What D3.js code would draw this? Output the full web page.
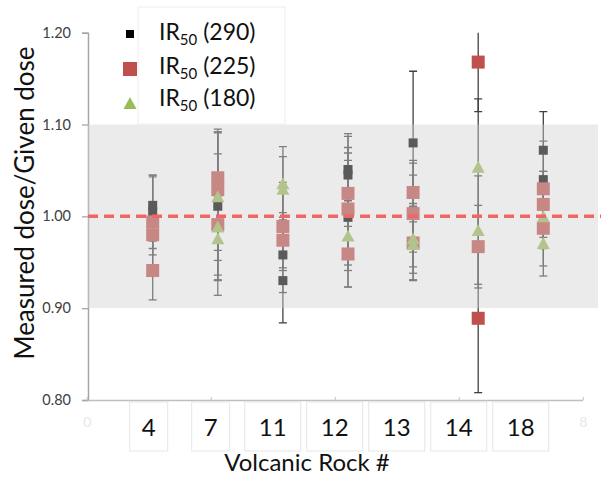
<!DOCTYPE html>
<html>
<head>
<meta charset="utf-8">
<script src="https://cdn.jsdelivr.net/npm/d3@7"></script>
<style>
  html, body { margin: 0; padding: 0; background: #fff; }
  svg { display: block; font-family: Lato, "Open Sans", sans-serif; }
</style>
</head>
<body>
<svg id="chart" width="608" height="481"></svg>
<script>
// Rock samples along the horizontal axis
const rocks = ["4", "7", "11", "12", "13", "14", "18"];
const yTicks = [0.80, 0.90, 1.00, 1.10, 1.20];
const axisTicks = [0, 2, 4, 6, 8];

// IR50 (290)
const rock290 = ["4", "4", "7", "11", "11", "12", "12", "12", "13", "13", "18", "18"];
const val290  = [1.012, 1.005, 1.011, 0.958, 0.930, 1.051, 1.045, 0.999, 1.080, 1.003, 1.072, 1.040];
const err290  = [0.033, 0.040, 0.080, 0.041, 0.046, 0.039, 0.042, 0.076, 0.078, 0.058, 0.042, 0.042];

// IR50 (225)
const rock225 = ["4", "4", "4", "7", "7", "7", "11", "11", "12", "12", "12", "13", "13", "13", "14", "14", "14", "18", "18", "18"];
const val225  = [0.994, 0.980, 0.941, 1.042, 1.029, 0.991, 0.989, 0.974, 1.025, 1.008, 0.959, 1.026, 1.003, 0.971, 1.168, 0.967, 0.889, 1.030, 1.013, 0.987];
const err225  = [0.049, 0.022, 0.032, 0.050, 0.066, 0.077, 0.048, 0.030, 0.036, 0.061, 0.036, 0.032, 0.042, 0.040, 0.054, 0.045, 0.081, 0.019, 0.036, 0.041];

// IR50 (180)
const rock180 = ["7", "7", "7", "11", "11", "12", "13", "13", "14", "14", "18", "18"];
const val180  = [1.022, 0.989, 0.976, 1.036, 1.030, 0.979, 0.976, 0.970, 1.054, 0.985, 1.000, 0.971];
const err180  = [0.070, 0.053, 0.046, 0.040, 0.035, 0.038, 0.038, 0.040, 0.074, 0.059, 0.035, 0.036];

const toleranceBand = [0.90, 1.10];
const reference = 1.00;

const series = [
  { name: "290", rocks: rock290, values: val290, errs: err290, color: "#000000", shape: "square", size: 9 },
  { name: "225", rocks: rock225, values: val225, errs: err225, color: "#c0504d", shape: "square", size: 13 },
  { name: "180", rocks: rock180, values: val180, errs: err180, color: "#9bbb59", shape: "triangle", size: 13 }
];

const svg = d3.select("#chart");
const plotLeft = 88, plotRight = 598, plotTop = 32.7, plotBottom = 400;

const y = d3.scaleLinear().domain([0.80, 1.20]).range([plotBottom, plotTop]);
const xPts = d3.scalePoint().domain(rocks).range([87.6, 608.4]).padding(1);
const xAxis = d3.scaleLinear().domain([0, 8]).range([86.7, 582.7]);

svg.append("defs").append("clipPath").attr("id", "plotClip")
  .append("rect").attr("x", plotLeft).attr("y", plotTop)
  .attr("width", plotRight - plotLeft + 10).attr("height", plotBottom - plotTop);

// Y axis
const gy = svg.append("g").attr("transform", `translate(${plotLeft},0)`)
  .call(d3.axisLeft(y).tickValues(yTicks).tickFormat(d3.format(".2f")).tickSize(6).tickPadding(11));
gy.select(".domain").attr("stroke", "#a6a6a6").attr("stroke-width", 1.5);
gy.selectAll(".tick line").attr("stroke", "#a6a6a6").attr("stroke-width", 1.3);
gy.selectAll(".tick text").attr("fill", "#404040").style("font-size", "14.5px").style("font-family", "Lato, sans-serif");

// X axis (numeric, faint); inner labels sit under the rock boxes, so only the ends are written
const gx = svg.append("g").attr("transform", `translate(0,${plotBottom})`)
  .call(d3.axisBottom(xAxis).tickValues(axisTicks)
    .tickFormat(d => (d === 0 || d === 8) ? String(d) : "")
    .tickSize(-3).tickPadding(17).tickSizeOuter(0));
gx.select(".domain").attr("stroke", "#bfbfbf").attr("stroke-width", 1.5);
gx.selectAll(".tick line").attr("stroke", "#bfbfbf");
gx.selectAll(".tick text").attr("fill", "#e8e8e8").style("font-size", "14px").style("font-family", "Lato, sans-serif");

// Error bars and markers
const plot = svg.append("g").attr("clip-path", "url(#plotClip)");
const capW = 8;
series.forEach(s => {
  s.values.forEach((v, i) => {
    const cx = xPts(s.rocks[i]);
    const y1 = y(v + s.errs[i]), y2 = y(v - s.errs[i]);
    const g = plot.append("g").attr("stroke", "#404040").attr("stroke-width", 1.3);
    g.append("line").attr("x1", cx).attr("x2", cx).attr("y1", y1).attr("y2", y2);
    g.append("line").attr("x1", cx - capW / 2).attr("x2", cx + capW / 2).attr("y1", y1).attr("y2", y1);
    g.append("line").attr("x1", cx - capW / 2).attr("x2", cx + capW / 2).attr("y1", y2).attr("y2", y2);
  });
});

function drawMarker(g, shape, cx, cy, size, color) {
  if (shape === "square") {
    g.append("rect").attr("x", cx - size / 2).attr("y", cy - size / 2)
      .attr("width", size).attr("height", size).attr("fill", color);
  } else {
    const h = size * 0.92;
    g.append("path")
      .attr("d", `M${cx},${cy - h / 2}L${cx + size / 2},${cy + h / 2}L${cx - size / 2},${cy + h / 2}Z`)
      .attr("fill", color);
  }
}

series.forEach(s => {
  s.values.forEach((v, i) => drawMarker(plot, s.shape, xPts(s.rocks[i]), y(v), s.size, s.color));
});

// Tolerance band (translucent grey)
svg.append("rect")
  .attr("x", plotLeft).attr("width", plotRight - plotLeft)
  .attr("y", y(toleranceBand[1])).attr("height", y(toleranceBand[0]) - y(toleranceBand[1]))
  .attr("fill", "rgb(209,209,209)").attr("fill-opacity", 0.43);

// Reference line at 1.00
svg.append("line")
  .attr("x1", plotLeft).attr("x2", 601)
  .attr("y1", y(reference)).attr("y2", y(reference))
  .attr("stroke", "#f06565").attr("stroke-width", 3.5).attr("stroke-dasharray", "10,6");

// Rock number labels in boxes
const labels = svg.append("g");
rocks.forEach((r, i) => {
  const cx = xAxis(i + 1);
  const w = r.length > 1 ? 56 : 38;
  labels.append("rect").attr("x", cx - w / 2).attr("y", 402).attr("width", w).attr("height", 49)
    .attr("fill", "#fff").attr("stroke", "#e6e6e6").attr("stroke-width", 1);
  labels.append("text").attr("x", cx).attr("y", 436).attr("text-anchor", "middle")
    .attr("fill", "#111").style("font-size", "24px").text(r);
});

// Axis titles
svg.append("text").attr("x", 307).attr("y", 471).attr("text-anchor", "middle")
  .attr("fill", "#111").style("font-size", "24px").text("Volcanic Rock #");
svg.append("text").attr("transform", "translate(34,203) rotate(-90)").attr("text-anchor", "middle")
  .attr("fill", "#111").style("font-size", "26px").text("Measured dose/Given dose");

// Legend
const leg = svg.append("g");
leg.append("rect").attr("x", 138).attr("y", 7).attr("width", 147).attr("height", 117)
  .attr("fill", "#fff").attr("stroke", "#eeeeee");
const legRows = [
  { y: 40, my: 34, sz: 8 },
  { y: 74, my: 69, sz: 14 },
  { y: 106, my: 103, sz: 13 }
];
series.forEach((s, i) => {
  const row = legRows[i];
  drawMarker(leg, s.shape, 130, row.my, row.sz, s.color);
  const t = leg.append("text").attr("x", 159).attr("y", row.y).attr("fill", "#111").style("font-size", "23px");
  t.append("tspan").text("IR");
  t.append("tspan").attr("dy", 5).style("font-size", "15px").text("50");
  t.append("tspan").attr("dy", -5).text(` (${s.name})`);
});
</script>
</body>
</html>
